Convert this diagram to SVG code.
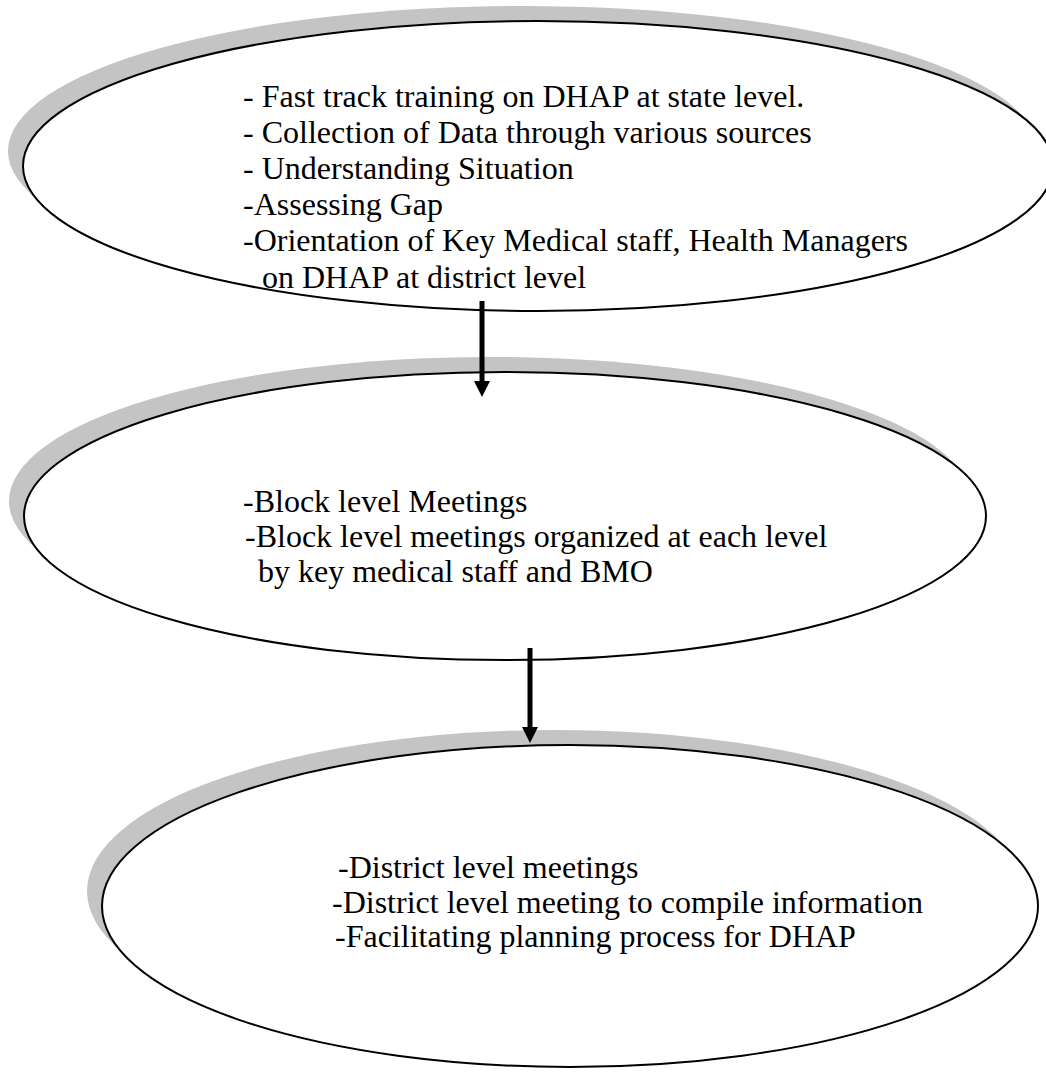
<svg xmlns="http://www.w3.org/2000/svg" width="1046" height="1076" viewBox="0 0 1046 1076">
  <style>
    .shadow { fill: #c4c4c4; stroke: none; }
    .oval { fill: #ffffff; stroke: #000000; stroke-width: 2; }
    .conn { stroke: #000000; stroke-width: 5; fill: none; marker-end: url(#head); }
  </style>
  <defs>
    <marker id="head" markerUnits="userSpaceOnUse" markerWidth="17" markerHeight="16" refX="1" refY="8" orient="auto">
      <path d="M0,0 L16,8 L0,16 Z" fill="#000000"/>
    </marker>
  </defs>
  <rect width="1046" height="1076" fill="#ffffff"/>

  <g id="node1">
    <ellipse class="shadow" cx="523" cy="151" rx="515" ry="145"/>
    <ellipse class="oval" cx="538" cy="166" rx="515" ry="145"/>
    <g font-family="'Liberation Serif', 'DejaVu Serif', serif" font-size="32" fill="#000000">
      <text x="243" y="107">- Fast track training on DHAP at state level.</text>
      <text x="243" y="143">- Collection of Data through various sources</text>
      <text x="243" y="179">- Understanding Situation</text>
      <text x="243" y="215">-Assessing Gap</text>
      <text x="243" y="251">-Orientation of Key Medical staff, Health Managers</text>
      <text x="262" y="288">on DHAP at district level</text>
    </g>
  </g>

  <g id="node2">
    <ellipse class="shadow" cx="490" cy="501" rx="481" ry="144"/>
    <ellipse class="oval" cx="505" cy="516" rx="481" ry="144"/>
    <g font-family="'Liberation Serif', 'DejaVu Serif', serif" font-size="32" fill="#000000">
      <text x="243" y="512">-Block level Meetings</text>
      <text x="245" y="547">-Block level meetings organized at each level</text>
      <text x="258" y="582">by key medical staff and BMO</text>
    </g>
  </g>

  <g id="node3">
    <ellipse class="shadow" cx="555" cy="891" rx="468" ry="161"/>
    <ellipse class="oval" cx="570" cy="906" rx="468" ry="161"/>
    <g font-family="'Liberation Serif', 'DejaVu Serif', serif" font-size="32" fill="#000000">
      <text x="338" y="878">-District level meetings</text>
      <text x="332" y="913">-District level meeting to compile information</text>
      <text x="335" y="947">-Facilitating planning process for DHAP</text>
    </g>
  </g>

  <g id="connectors">
    <line class="conn" x1="482" y1="301" x2="482" y2="382"/>
    <line class="conn" x1="530" y1="648" x2="530" y2="728"/>
  </g>
</svg>
